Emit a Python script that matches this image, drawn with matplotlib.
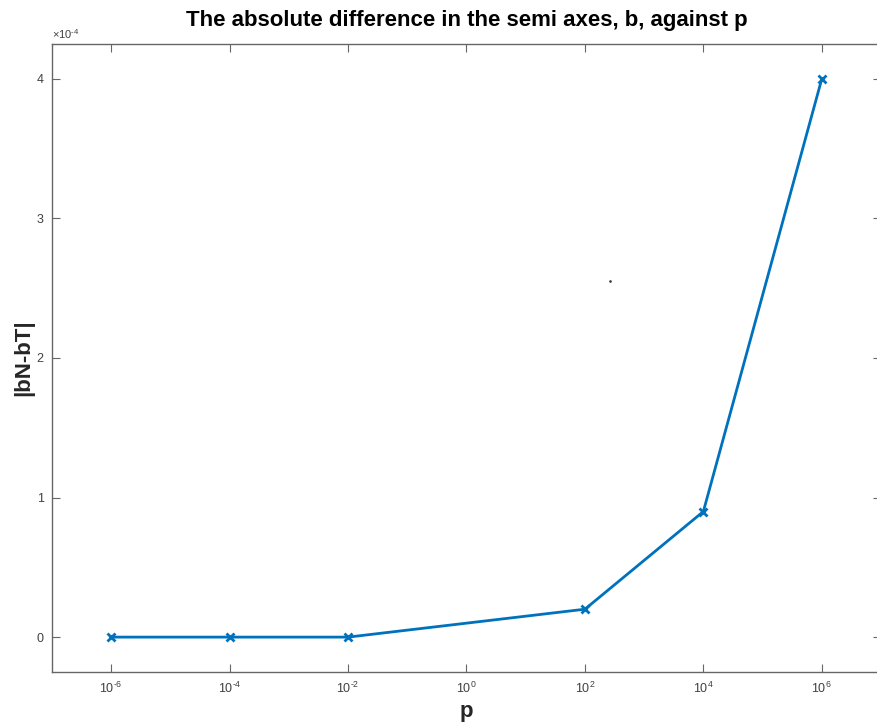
import numpy as np
import matplotlib
matplotlib.use("Agg")
import matplotlib.pyplot as plt
from matplotlib.ticker import FixedLocator, FuncFormatter

plt.rcParams["font.family"] = ["Liberation Sans", "DejaVu Sans"]
plt.rcParams["mathtext.default"] = "regular"
plt.rcParams["axes.unicode_minus"] = False

# data
p_values = [1e-6, 1e-4, 1e-2, 1e2, 1e4, 1e6]
abs_diff_b = [0.0, 0.0, 0.0, 2.0e-5, 9.0e-5, 4.0e-4]
stray_dot = ([270.0], [2.55e-4])

x_ticks = [1e-6, 1e-4, 1e-2, 1e0, 1e2, 1e4, 1e6]
y_ticks = [0.0, 1e-4, 2e-4, 3e-4, 4e-4]

line_color = "#0072BD"
axis_color = "#666666"
text_color = "#404040"

fig = plt.figure(figsize=(8.78, 7.27), dpi=100)
ax = fig.add_axes([52 / 878, 1 - 672 / 727, 829 / 878, 628 / 727])

ax.plot(p_values, abs_diff_b, color=line_color, linewidth=2.0,
        marker="x", markersize=6, markeredgewidth=2.0)
ax.plot(*stray_dot, linestyle="none", marker="s", markersize=0.8, color="#333333")


def sup(exp):
    # plain hyphen in the exponent, like the MATLAB labels
    return "$^{" + str(exp).replace("-", "\u2010") + "}$"


def pow10_label(v, _):
    return "10" + sup(int(round(np.log10(v))))


ax.set_xscale("log")
ax.set_xlim(1e-7, 1e7)
ax.set_ylim(-0.25e-4, 4.25e-4)

ax.xaxis.set_major_locator(FixedLocator(x_ticks))
ax.xaxis.set_minor_locator(FixedLocator([]))
ax.xaxis.set_major_formatter(FuncFormatter(pow10_label))
ax.yaxis.set_major_locator(FixedLocator(y_ticks))
ax.yaxis.set_major_formatter(FuncFormatter(lambda v, _: f"{v * 1e4:g}"))

ax.tick_params(direction="in", length=6, width=0.8, colors=axis_color,
               labelcolor=text_color, labelsize=9, top=True, right=True, pad=6)
for side in ["left", "bottom", "top", "right"]:
    ax.spines[side].set_color(axis_color)
    ax.spines[side].set_linewidth(1.0)

ax.text(0.0, 1.005, "\u00d710" + sup(-4), transform=ax.transAxes,
        fontsize=8, color=text_color, ha="left", va="bottom")

ax.set_title("The absolute difference in the semi axes, b, against p",
             fontsize=16, fontweight="bold", pad=13)
ax.set_xlabel("p", fontsize=16, fontweight="bold", labelpad=4, color="#262626")
ax.set_ylabel("|bN-bT|", fontsize=16, fontweight="bold", labelpad=2, color="#262626")

fig.savefig("out.png", dpi=100)
